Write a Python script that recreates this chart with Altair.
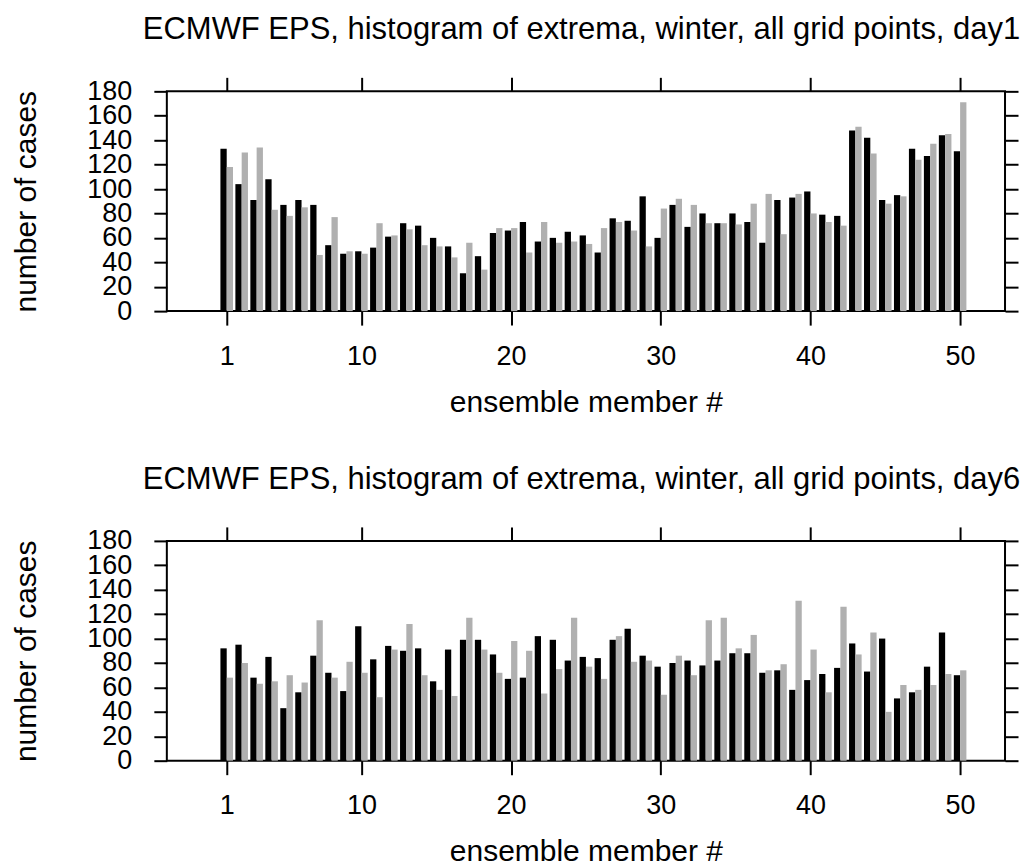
import altair as alt
import pandas as pd

members = list(range(1, 51))

day1_black = [133, 104, 91, 108, 87, 91, 87, 54, 47, 49,
              52, 61, 72, 70, 60, 53, 31, 45, 64, 66,
              73, 57, 60, 65, 62, 48, 76, 74, 94, 60,
              87, 69, 80, 72, 80, 73, 56, 91, 93, 98,
              79, 78, 148, 142, 91, 95, 133, 127, 144, 131]
day1_gray = [118, 130, 134, 83, 78, 85, 46, 77, 49, 47,
             72, 62, 67, 54, 53, 44, 56, 34, 68, 68,
             48, 73, 56, 57, 55, 68, 73, 66, 53, 84,
             92, 87, 72, 72, 71, 88, 96, 63, 96, 80,
             73, 70, 151, 129, 88, 94, 124, 137, 145, 171]
day6_black = [92, 95, 68, 85, 43, 56, 86, 72, 57, 110,
              83, 94, 90, 92, 65, 91, 99, 99, 87, 67,
              68, 102, 99, 82, 85, 84, 99, 108, 86, 77,
              80, 82, 78, 82, 88, 88, 72, 74, 58, 66,
              71, 76, 96, 73, 100, 51, 56, 77, 105, 70]
day6_gray = [68, 80, 63, 65, 70, 64, 115, 68, 81, 72,
             52, 91, 112, 70, 58, 53, 117, 91, 72, 98,
             90, 55, 75, 117, 77, 67, 102, 81, 82, 54,
             86, 70, 115, 117, 92, 103, 74, 79, 131, 91,
             56, 126, 87, 105, 40, 62, 58, 62, 71, 74]

x_ticks = [1, 10, 20, 30, 40, 50]
y_ticks = list(range(0, 181, 20))
titles = ["ECMWF EPS, histogram of extrema, winter, all grid points, day1",
          "ECMWF EPS, histogram of extrema, winter, all grid points, day6"]

FONT = "Liberation Sans"
HALF = 0.42


def panel(black, gray, title):
    df = pd.DataFrame({"member": members, "black": black, "gray": gray})
    base = alt.Chart(df)
    xs = alt.Scale(domain=[-3, 53], nice=False, zero=False)
    ys = alt.Scale(domain=[0, 180], nice=False)
    b = base.transform_calculate(x0=f"datum.member - {HALF}").mark_rect(
        color="black", strokeWidth=0
    ).encode(
        x=alt.X("x0:Q", scale=xs,
                axis=alt.Axis(orient="bottom", values=x_ticks, title="ensemble member #",
                              tickSize=14, labelPadding=18, titlePadding=18, domain=False)),
        x2="member:Q",
        y=alt.Y("black:Q", scale=ys,
                axis=alt.Axis(orient="left", values=y_ticks, title="number of cases",
                              tickSize=13, labelPadding=22, titlePadding=45, domain=False)),
        y2=alt.datum(0),
    )
    g = base.transform_calculate(x1=f"datum.member + {HALF}").mark_rect(
        color="#b0b0b0", strokeWidth=0
    ).encode(
        x=alt.X("member:Q", scale=xs,
                axis=alt.Axis(orient="top", values=x_ticks, labels=False, title=None,
                              tickSize=14, domain=False)),
        x2="x1:Q",
        y=alt.Y("gray:Q", scale=ys,
                axis=alt.Axis(orient="right", values=y_ticks, labels=False, title=None,
                              tickSize=13, domain=False)),
        y2=alt.datum(0),
    )
    return alt.layer(b, g).resolve_axis(x="independent", y="independent").properties(
        width=839, height=220,
        title=alt.TitleParams(title, anchor="start", frame="group", dx=-24,
                              fontSize=31, font=FONT, fontWeight="normal",
                              baseline="alphabetic", offset=6, color="black"),
    )


chart = alt.vconcat(
    panel(day1_black, day1_gray, titles[0]),
    panel(day6_black, day6_gray, titles[1]),
    spacing=45,
).properties(
    padding={"left": 10, "top": 13, "right": 0, "bottom": 0},
    background="white",
).configure_view(
    stroke="black", strokeWidth=2
).configure_axis(
    grid=False,
    labelFont=FONT, labelFontSize=27, labelColor="black",
    titleFont=FONT, titleFontSize=30, titleFontWeight="normal", titleColor="black",
    tickColor="black", tickWidth=2,
    labelOverlap=False,
)

chart.save("out.html", embed_options={"renderer": "svg", "actions": False})
